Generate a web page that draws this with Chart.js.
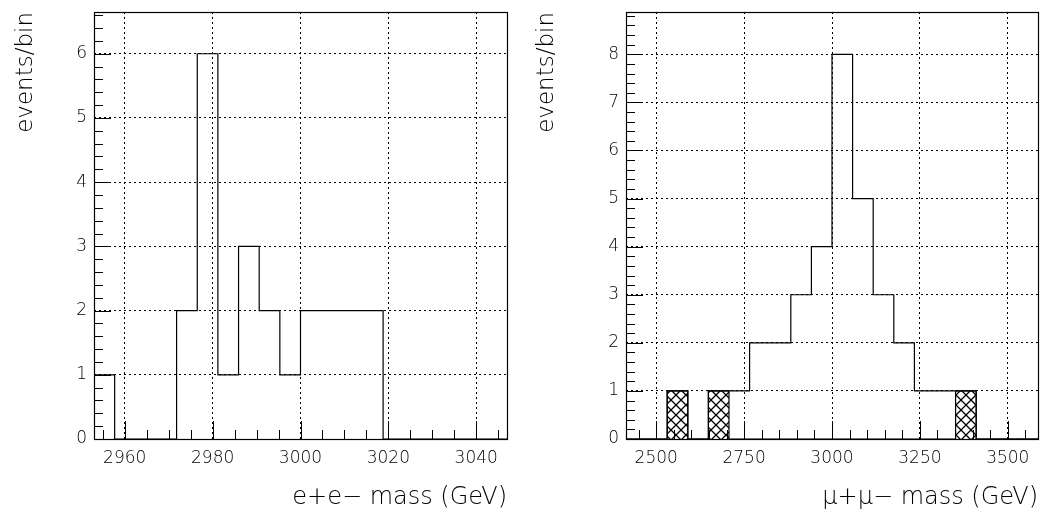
<!DOCTYPE html>
<html>
<head>
<meta charset="utf-8">
<script src="https://cdn.jsdelivr.net/npm/chart.js@4"></script>
<style>
  html, body { margin: 0; background: #fff; }
  #wrap { display: flex; width: 1042px; height: 512px; }
  canvas { display: block; }
</style>
</head>
<body>
<div id="wrap">
  <canvas id="ee" width="521" height="512"></canvas>
  <canvas id="mm" width="521" height="512"></canvas>
</div>
<script>
// e+e- : 20 bins between 2953 and 3047
const eeRange = [2953, 3047]
const eeCounts = [1, 0, 0, 0, 2, 6, 1, 3, 2, 1, 2, 2, 2, 2, 0, 0, 0, 0, 0, 0]
const eeXTicks = [2960, 2980, 3000, 3020, 3040]
const eeYTicks = [0, 1, 2, 3, 4, 5, 6]

// mu+mu- : 20 bins between 2414 and 3586
const mmRange = [2414, 3586]
const mmCounts = [0, 0, 1, 0, 1, 1, 2, 2, 3, 4, 8, 5, 3, 2, 1, 1, 1, 0, 0, 0]
const mmHatched = [0, 0, 1, 0, 1, 0, 0, 0, 0, 0, 0, 0, 0, 0, 0, 0, 1, 0, 0, 0]
const mmXTicks = [2500, 2750, 3000, 3250, 3500]
const mmYTicks = [0, 1, 2, 3, 4, 5, 6, 7, 8]

const FONT = "'DejaVu Sans', sans-serif"
const WEIGHT = 200

// bin contents -> points for a 'before' stepped line
function steps(range, counts) {
  const w = (range[1] - range[0]) / counts.length
  const pts = counts.map((c, i) => ({ x: range[0] + i * w, y: c }))
  pts.push({ x: range[1], y: 0 })
  return pts
}

// cross hatch pattern
function hatch() {
  const c = document.createElement('canvas')
  c.width = 10; c.height = 10
  const g = c.getContext('2d')
  g.strokeStyle = '#000'
  g.lineWidth = 1.3
  g.beginPath()
  g.moveTo(-1, -1); g.lineTo(11, 11)
  g.moveTo(11, -1); g.lineTo(-1, 11)
  g.stroke()
  return g.createPattern(c, 'repeat')
}

// frame + inward tick marks (major and minor)
const frame = {
  id: 'frame',
  afterDraw(chart, args, o) {
    const { ctx, chartArea: a, scales: { x, y } } = chart
    ctx.save()
    ctx.strokeStyle = '#000'
    ctx.lineWidth = 1
    ctx.beginPath()
    const loop = (s, minor, major, fn) => {
      for (let k = Math.ceil(s.min / minor - 1e-9); k * minor <= s.max + 1e-9; k++) {
        const v = k * minor
        const isMajor = Math.abs(v / major - Math.round(v / major)) < 1e-6
        fn(s.getPixelForValue(v), isMajor)
      }
    }
    loop(x, o.xMinor, o.xMajor, (px, m) => {
      px = Math.round(px) + 0.5
      ctx.moveTo(px, a.bottom)
      ctx.lineTo(px, a.bottom - (m ? 18 : 9))
    })
    loop(y, 0.2, 1, (py, m) => {
      py = Math.round(py) + 0.5
      ctx.moveTo(a.left, py)
      ctx.lineTo(a.left + (m ? 17 : 9), py)
    })
    ctx.stroke()
    ctx.lineWidth = 1.2
    ctx.strokeRect(Math.round(a.left) + 0.5, Math.round(a.top) + 0.5,
      Math.round(a.right - a.left), Math.round(a.bottom - a.top))
    ctx.restore()
  }
}

function makeChart(id, datasets, range, yMax, xTicks, yTicks, xMinor, xMajor, xTitle, yWidth, padRight) {
  return new Chart(document.getElementById(id), {
    type: 'line',
    data: { datasets },
    options: {
      responsive: false,
      animation: false,
      events: [],
      layout: { padding: { left: 0, right: padRight, top: 12, bottom: 0 } },
      plugins: {
        legend: { display: false },
        tooltip: { enabled: false },
        frame: { xMinor, xMajor }
      },
      elements: { point: { radius: 0 }, line: { borderWidth: 1.2, borderColor: '#000' } },
      scales: {
        x: {
          type: 'linear',
          min: range[0], max: range[1],
          afterBuildTicks: s => { s.ticks = xTicks.map(v => ({ value: v })) },
          afterFit: s => { s.height = 73; s.paddingLeft = 0; s.paddingRight = 0 },
          grid: { color: '#000', lineWidth: 1, drawTicks: false },
          border: { display: false, dash: [2, 3] },
          ticks: { color: '#000', padding: 9, maxRotation: 0,
            font: { family: FONT, size: 17, weight: WEIGHT },
            callback: v => String(v) },
          title: { display: true, text: xTitle, align: 'end', color: '#000',
            padding: { top: 0, bottom: 0 }, font: { family: FONT, size: 24, weight: WEIGHT } }
        },
        y: {
          min: 0, max: yMax,
          afterBuildTicks: s => { s.ticks = yTicks.map(v => ({ value: v })) },
          afterFit: s => { s.width = yWidth; s.paddingTop = 0; s.paddingBottom = 0 },
          grid: { color: '#000', lineWidth: 1, drawTicks: false },
          border: { display: false, dash: [2, 3] },
          ticks: { color: '#000', padding: 7,
            font: { family: FONT, size: 17, weight: WEIGHT },
            callback: v => String(v) },
          title: { display: true, text: 'events/bin', align: 'end', color: '#000',
            padding: { top: 12, bottom: 0 }, font: { family: FONT, size: 23, weight: WEIGHT } }
        }
      }
    },
    plugins: [frame]
  })
}

makeChart('ee', [
  { data: steps(eeRange, eeCounts), stepped: 'before', fill: false }
], eeRange, 6.65, eeXTicks, eeYTicks, 5, 20, 'e+e\u2212 mass (GeV)', 94, 14)

makeChart('mm', [
  { data: steps(mmRange, mmHatched), stepped: 'before', fill: 'origin', backgroundColor: hatch() },
  { data: steps(mmRange, mmCounts), stepped: 'before', fill: false }
], mmRange, 8.88, mmXTicks, mmYTicks, 50, 250, '\u03bc+\u03bc\u2212 mass (GeV)', 105, 4)
</script>
</body>
</html>
